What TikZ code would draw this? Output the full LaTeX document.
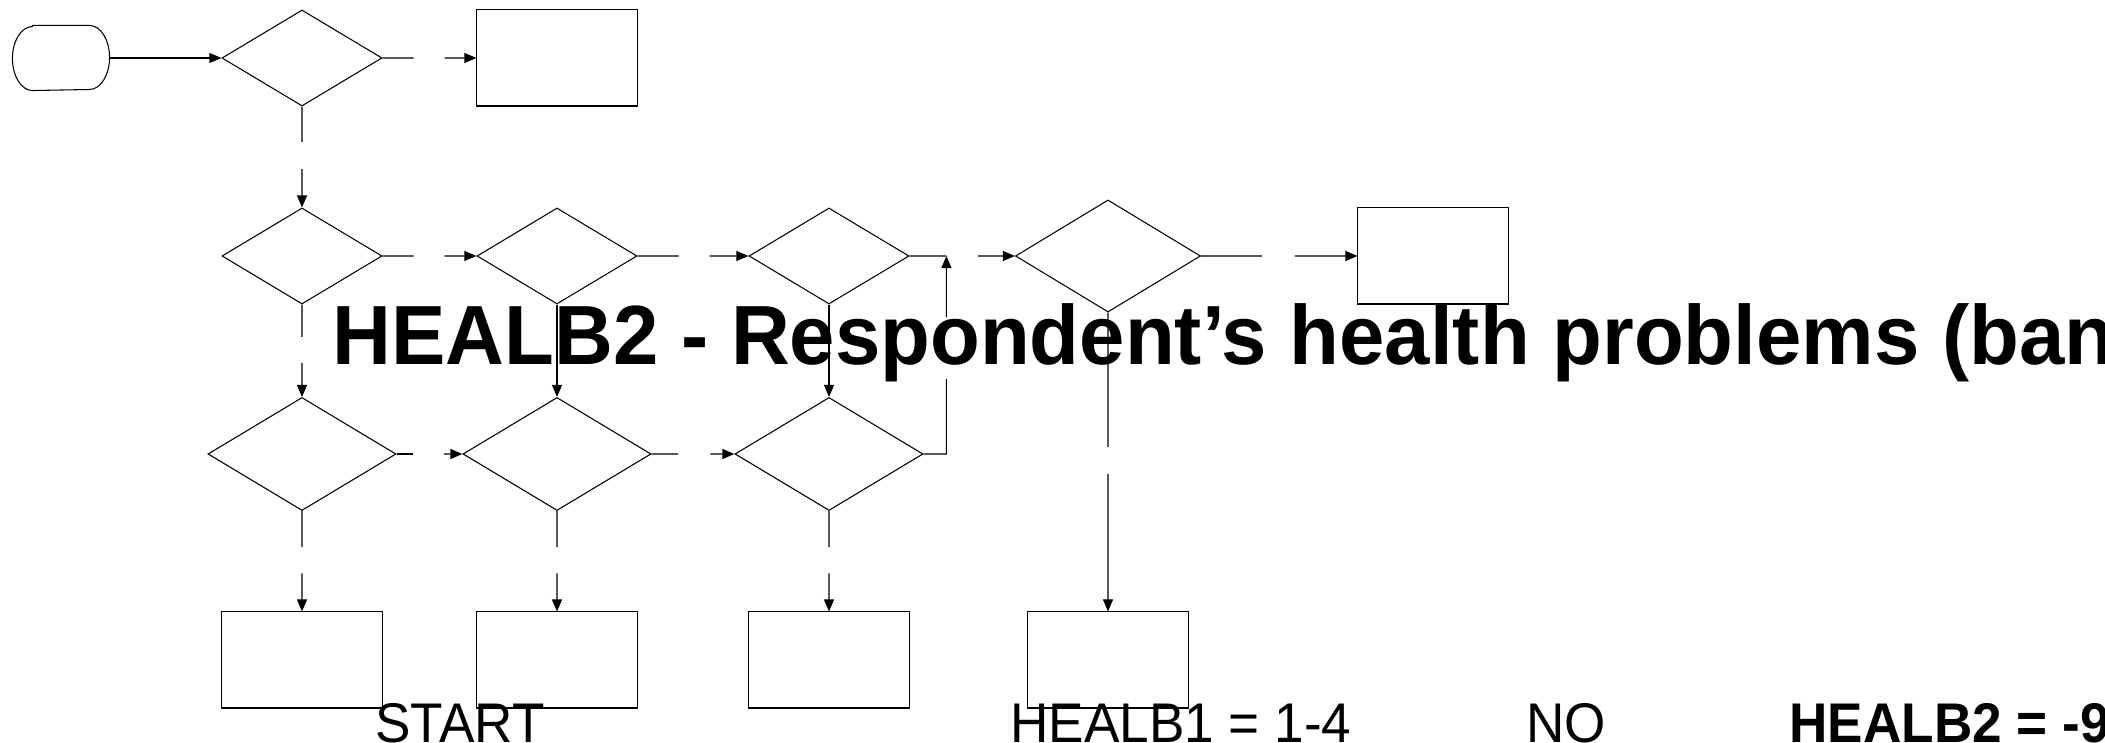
\documentclass[tikz,border=0pt]{standalone}
\usepackage{fontspec}
\setmainfont[FakeStretch=0.95]{Liberation Sans}
\newfontfamily\headfont[FakeStretch=0.97]{Liberation Sans}
\usetikzlibrary{shapes.geometric,arrows.meta,calc}

\begin{document}
\begin{tikzpicture}[
  x=0.01cm, y=-0.01cm,
  line width=0.3pt,
  arr/.style={-{Triangle[length=1.2mm,width=1mm]}},
  dec/.style={draw, diamond, inner sep=0pt, minimum width=1.6cm, minimum height=0.96cm},
  bigdec/.style={dec, minimum width=1.88cm, minimum height=1.13cm},
  outbox/.style={draw, rectangle, inner sep=0pt, minimum width=1.6cm, minimum height=0.96cm},
  term/.style={inner sep=0pt, minimum width=0.96cm, minimum height=0.64cm},
  lab/.style={inner sep=0pt, anchor=base west, font=\fontsize{15.9}{18}\selectfont},
  head/.style={inner sep=0pt, anchor=base west, font=\headfont\bfseries\fontsize{23.9}{28}\selectfont}
]
\useasboundingbox (0,0) rectangle (2105,743);

\node[head] (title) at (332,365) {HEALB2 - Respondent’s health problems (ban};

\node[term] (start) at (61,58) {};
\draw ([xshift=0.2cm]start.north west) -- ([xshift=-0.2cm]start.north east)
  arc[start angle=90, end angle=-90, x radius=0.2cm, y radius=0.32cm]
  -- ([xshift=0.2cm]start.south west)
  arc[start angle=270, end angle=90, x radius=0.2cm, y radius=0.32cm] -- cycle;
\node[dec] (q1) at (302,58) {};
\node[outbox] (out1) at (557,58) {};
\node[dec] (q2) at (302,256) {};
\node[dec] (q3) at (557,256) {};
\node[dec] (q4) at (829,256) {};
\node[dec, minimum width=1.85cm, minimum height=1.12cm] (q5) at (1108,256) {};
\node[outbox, minimum width=1.5cm] (out2) at (1433,256) {};
\node[bigdec] (q6) at (302,454) {};
\node[bigdec] (q7) at (557,454) {};
\node[bigdec] (q8) at (829,454) {};
\foreach \n/\x in {b1/302, b2/557, b3/829, b4/1108}
  \node[outbox] (\n) at (\x,660) {};

\draw[arr] (start) -- (q1);
% sideways, broken where the answer would sit
\foreach \a/\b/\p/\q in {q1/out1/.33/.66, q2/q3/.33/.66, q3/q4/.37/.65, q4/q5/.35/.65,
                         q5/out2/.39/.6, q6/q7/.25/.72, q7/q8/.32/.71} {
  \draw (\a.east) -- ($(\a.east)!\p!(\b.west)$);
  \draw[arr] ($(\a.east)!\q!(\b.west)$) -- (\b.west);
}
% downwards
\foreach \a/\b/\p/\q in {q1/q2/.35/.62, q2/q6/.35/.63, q5/b4/.45/.54,
                         q6/b1/.36/.62, q7/b2/.36/.62, q8/b3/.36/.62} {
  \draw (\a.south) -- ($(\a.south)!\p!(\b.north)$);
  \draw[arr] ($(\a.south)!\q!(\b.north)$) -- (\b.north);
}
\draw[arr] (q3) -- (q7);
\draw[arr] (q4) -- (q8);
% back up into the second row
\coordinate (join) at ($(q4.east)!.35!(q5.west)$);
\coordinate (bend) at (join |- q8.east);
\draw (q8.east) -- (bend) -- ($(bend)!.38!(join)$);
\draw[arr] ($(bend)!.69!(join)$) -- (join);

\node[lab] (tstart) at (375,742) {START};
\node[lab] (tcond) at (1010,742) {HEALB1 = 1-4};
\node[lab] (tno) at (1526,742) {NO};
\node[lab, font=\bfseries\fontsize{15.9}{18}\selectfont] (tres) at (1789,742) {HEALB2 = -9};
\end{tikzpicture}
\end{document}
